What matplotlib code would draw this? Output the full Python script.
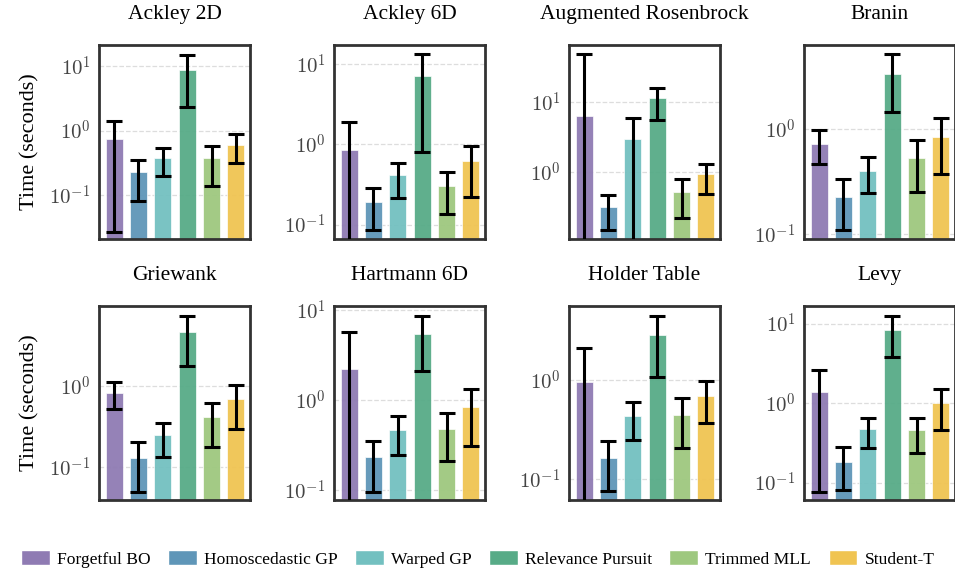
import numpy as np
import matplotlib
matplotlib.use("Agg")
import matplotlib.pyplot as plt
from matplotlib.patches import Patch
from matplotlib.ticker import FuncFormatter, LogLocator, NullLocator

plt.rcParams['font.family'] = ['Liberation Serif', 'DejaVu Serif']
plt.rcParams['mathtext.fontset'] = 'cm'

methods = ['Forgetful BO', 'Homoscedastic GP', 'Warped GP',
           'Relevance Pursuit', 'Trimmed MLL', 'Student-T']
colors = ['#8f7bb3', '#5f96b8', '#73c0c0', '#57ab87', '#9ec87f', '#f0c452']

benchmarks = ['Ackley 2D', 'Ackley 6D', 'Augmented Rosenbrock', 'Branin',
              'Griewank', 'Hartmann 6D', 'Holder Table', 'Levy']

# mean time per method (seconds)
means = [
    [0.74, 0.226, 0.38, 8.8, 0.38, 0.61],
    [0.85, 0.19, 0.41, 7.05, 0.303, 0.615],
    [6.25, 0.31, 2.99, 11.3, 0.52, 0.915],
    [0.726, 0.226, 0.398, 3.34, 0.528, 0.84],
    [0.83, 0.13, 0.25, 4.65, 0.416, 0.69],
    [2.19, 0.231, 0.464, 5.46, 0.48, 0.83],
    [0.96, 0.163, 0.432, 2.86, 0.448, 0.69],
    [1.4, 0.184, 0.471, 8.43, 0.457, 1.0],
]
# lower / upper ends of the error bars
lows = [
    [0.027, 0.082, 0.20, 2.3, 0.139, 0.31],
    [0.001, 0.086, 0.213, 0.79, 0.136, 0.223],
    [0.001, 0.145, 0.001, 5.58, 0.218, 0.474],
    [0.46, 0.109, 0.246, 1.45, 0.251, 0.372],
    [0.52, 0.0497, 0.135, 1.75, 0.176, 0.30],
    [0.001, 0.095, 0.247, 2.12, 0.212, 0.308],
    [0.001, 0.076, 0.248, 1.07, 0.206, 0.372],
    [0.0767, 0.080, 0.272, 3.82, 0.235, 0.461],
]
highs = [
    [1.43, 0.35, 0.54, 14.9, 0.58, 0.88],
    [1.88, 0.284, 0.59, 13.1, 0.457, 0.96],
    [48.0, 0.47, 5.85, 16.0, 0.79, 1.3],
    [0.98, 0.336, 0.536, 5.09, 0.78, 1.27],
    [1.11, 0.203, 0.348, 7.26, 0.624, 1.04],
    [5.74, 0.353, 0.664, 8.57, 0.722, 1.31],
    [2.11, 0.244, 0.598, 4.48, 0.667, 0.977],
    [2.65, 0.28, 0.653, 12.4, 0.653, 1.5],
]
ylims = [(0.021, 21.2), (0.066, 17.2), (0.109, 65.2), (0.0904, 6.24),
         (0.0396, 9.64), (0.0774, 11.1), (0.0612, 5.66), (0.0605, 16.7)]

fig = plt.figure(figsize=(9.55, 5.73), dpi=100)
W, H = 955.0, 573.0
lefts = [99, 334, 569, 804]
tops = [45, 306]
aw, ah = 151, 194

decade_fmt = FuncFormatter(lambda v, p: r'$10^{%d}$' % int(round(np.log10(v))))

x = np.arange(len(methods))
for i, name in enumerate(benchmarks):
    r, c = divmod(i, 4)
    ax = fig.add_axes([lefts[c] / W, 1 - (tops[r] + ah) / H, aw / W, ah / H])
    m = np.array(means[i])
    lo = np.array(lows[i])
    hi = np.array(highs[i])
    ax.bar(x, m, width=0.7, color=colors, alpha=0.95, edgecolor='white', linewidth=0.5, zorder=2)
    ax.errorbar(x, m, yerr=[m - lo, hi - m], fmt='none', ecolor='black',
                elinewidth=2.2, capsize=6, capthick=2.2, zorder=3)
    ax.set_yscale('log')
    ax.set_ylim(*ylims[i])
    ax.set_xlim(-0.62, 5.58)
    ax.set_xticks([])
    ax.yaxis.set_major_locator(LogLocator(base=10))
    ax.yaxis.set_minor_locator(NullLocator())
    ax.yaxis.set_major_formatter(decade_fmt)
    ax.yaxis.grid(True, which='major', linestyle='--', color='#dddddd', linewidth=0.9, zorder=0)
    ax.tick_params(axis='y', which='both', length=0, labelsize=15, labelcolor='#444444', pad=6)
    for s in ax.spines.values():
        s.set_color('#333333')
        s.set_linewidth(2)
    ax.set_title(name, fontsize=15.5, pad=19)
    if c == 0:
        ax.set_ylabel('Time (seconds)', fontsize=16, labelpad=7)

handles = [Patch(facecolor=col, edgecolor='white', label=lab) for col, lab in zip(colors, methods)]
fig.legend(handles=handles, loc='center', bbox_to_anchor=(0.5, 1 - 559 / H), ncol=6,
           frameon=False, fontsize=12.6, handlelength=1.65, handleheight=0.9,
           columnspacing=1.0, handletextpad=0.4)

fig.savefig('out.png', dpi=100)
